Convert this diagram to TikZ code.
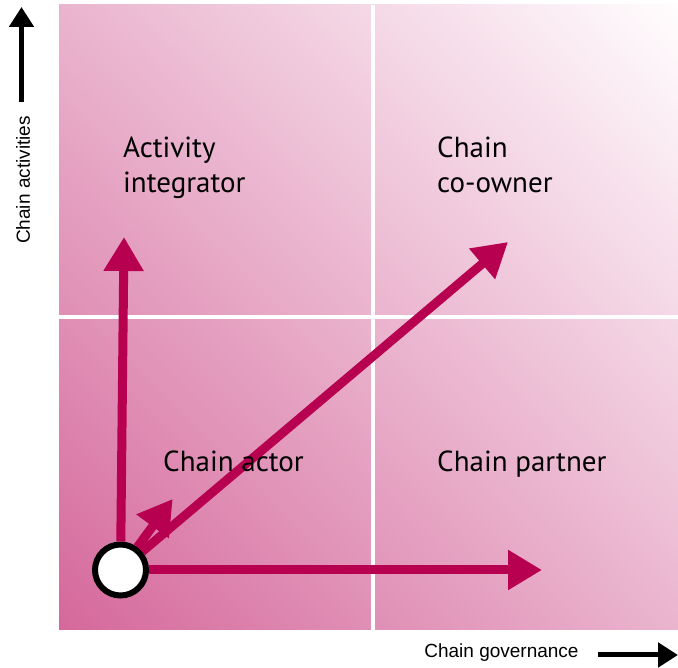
\documentclass[tikz,border=0pt]{standalone}
\usepackage{fontspec}
\setmainfont{PT Sans}
\newfontfamily\axisfont{Liberation Sans}
\usepackage{xcolor}
\usetikzlibrary{arrows.meta,positioning,calc,shadings}

\definecolor{chainred}{RGB}{184,0,80}
\definecolor{matrixdark}{RGB}{213,104,155}
\definecolor{matrixmid}{RGB}{234,180,206}
\definecolor{matrixlight}{RGB}{255,253,254}

\begin{document}
\begin{tikzpicture}[
    x=1pt, y=1pt,
    quadrant/.style={anchor=base west, inner sep=0pt, align=left, font=\fontsize{29}{35}\selectfont, text=black},
    axislabel/.style={inner sep=0pt, font=\axisfont\fontsize{19}{22}\selectfont},
    axisarrow/.style={-{Triangle[length=20pt, width=24pt]}, line width=5pt, black},
    move/.style={-{Triangle[length=34pt, width=38pt]}, line width=9pt, chainred},
    start/.style={circle, draw=black, line width=4pt, fill=white, minimum size=53pt, inner sep=0pt}
]
    \useasboundingbox (0,0) rectangle (678,668);

    % Matrix background
    \shade[lower left=matrixdark, upper right=matrixlight, upper left=matrixmid, lower right=matrixmid]
        (59,38) rectangle (678,663);
    \draw[white, line width=4pt] (373,38) -- (373,663);
    \draw[white, line width=4pt] (59,351) -- (678,351);

    % Starting position and growth paths
    \node[start] (actor) at (120.5,98) {};
    \coordinate (tipUp) at (124,431);
    \coordinate (tipDiag) at (508,426);
    \coordinate (tipShort) at (172.7,169);
    \coordinate (tipRight) at (542,98);
    \foreach \tip in {tipUp, tipDiag, tipShort, tipRight}
        \draw[move] (actor) -- (\tip);
    \filldraw[fill=white, draw=black, line width=4pt] (actor.center) circle (24.5);

    % Quadrant labels
    \node[quadrant] (integrator) at (123,475) {Activity\\integrator};
    \node[quadrant] (coowner) at (437,475) {Chain\\co-owner};
    \node[quadrant] (chainactor) at (163,196) {Chain actor};
    \node[quadrant] (partner) at (437,196) {Chain partner};

    % Axes
    \node[axislabel, rotate=90] (activities) at (23,488) {Chain activities};
    \coordinate (actFrom) at (21.5,566);
    \coordinate (actTo) at (21.5,661);
    \draw[axisarrow] (actFrom) -- (actTo);
    \node[axislabel] (governance) at (501.5,15) {Chain governance};
    \coordinate (govFrom) at (598,13);
    \coordinate (govTo) at (678,13);
    \draw[axisarrow] (govFrom) -- (govTo);
\end{tikzpicture}
\end{document}
